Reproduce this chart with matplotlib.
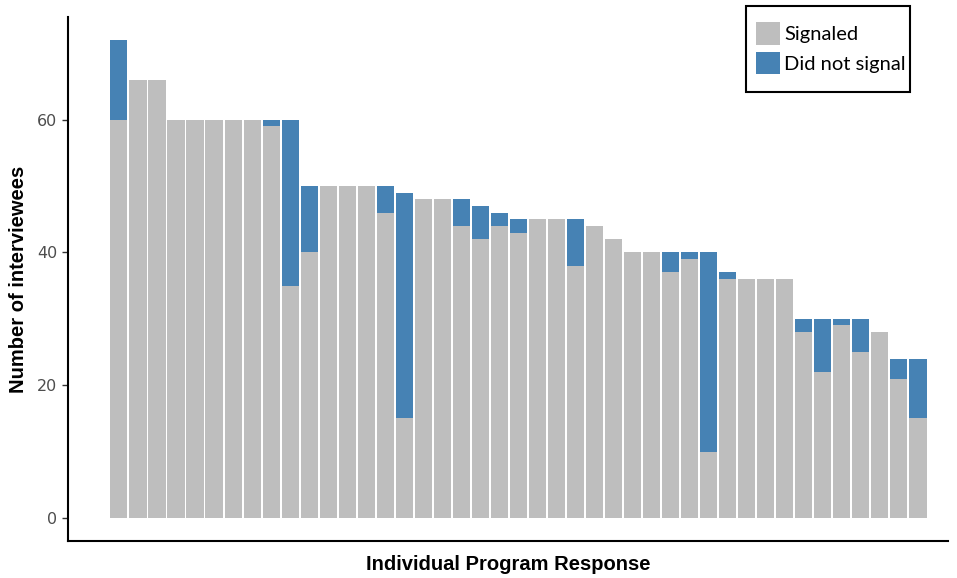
import matplotlib.pyplot as plt
from matplotlib.patches import Rectangle
import numpy as np

# counts per program, sorted by total interviewees
signaled = [60, 66, 66, 60, 60, 60, 60, 60, 59, 35, 40, 50, 50, 50, 46, 15,
            48, 48, 44, 42, 44, 43, 45, 45, 38, 44, 42, 40, 40, 37, 39, 10,
            36, 36, 36, 36, 28, 22, 29, 25, 28, 21, 15]
did_not_signal = [12, 0, 0, 0, 0, 0, 0, 0, 1, 25, 10, 0, 0, 0, 4, 34,
                  0, 0, 4, 5, 2, 2, 0, 0, 7, 0, 0, 0, 0, 3, 1, 30,
                  1, 0, 0, 0, 2, 8, 1, 5, 0, 3, 9]
yticks = [0, 20, 40, 60]

grey = '#bebebe'
blue = '#4682b4'

x = np.arange(1, len(signaled) + 1)

fig = plt.figure(figsize=(9.57, 5.78), dpi=100)
ax = fig.add_axes([0.071, 0.064, 0.92, 0.907])

b1 = ax.bar(x, signaled, width=0.9, color=grey, label='Signaled')
b2 = ax.bar(x, did_not_signal, width=0.9, bottom=signaled, color=blue,
            label='Did not signal')

ax.set_xlim(-1.68, 44.6)
ax.set_ylim(-3.47, 75.5)
ax.set_xticks([])
ax.set_yticks(yticks)
ax.tick_params(axis='y', length=4, width=1, colors='#333333',
               labelcolor='#4d4d4d', labelsize=11.5)
for side in ['top', 'right']:
    ax.spines[side].set_visible(False)
for side in ['left', 'bottom']:
    ax.spines[side].set_linewidth(1.5)
    ax.spines[side].set_color('black')

ax.set_ylabel('Number of interviewees', fontsize=14.5, fontweight='bold',
              family='Liberation Sans', labelpad=7)
ax.set_xlabel('Individual Program Response', fontsize=14.5, fontweight='bold',
              family='Liberation Sans', labelpad=10)

# legend without its own frame; box drawn separately (pads differ in x and y)
leg = fig.legend(handles=[b1, b2], loc='upper left',
                 bbox_to_anchor=(0.790, 0.962), frameon=False,
                 prop={'family': 'Lato', 'size': 14.5}, handlelength=1.2,
                 handleheight=1.35, handletextpad=0.2, labelspacing=0.35,
                 borderpad=0, borderaxespad=0)
fig.patches.append(Rectangle((0.7795, 0.8408), 0.1714, 0.1488,
                             transform=fig.transFigure, fill=False,
                             edgecolor='black', linewidth=1.5))

plt.savefig('out.png', dpi=100)
